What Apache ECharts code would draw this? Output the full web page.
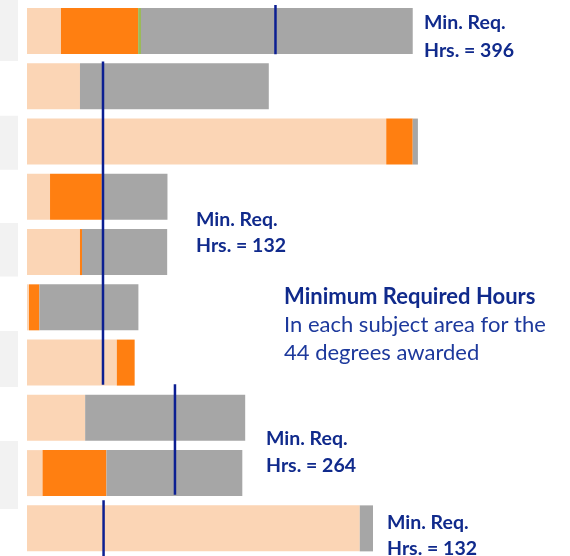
<!DOCTYPE html>
<html>
<head>
<meta charset="utf-8">
<script src="https://cdn.jsdelivr.net/npm/echarts@6/dist/echarts.min.js"></script>
<style>
  html, body { margin: 0; padding: 0; background: #fff; }
  #chart { width: 570px; height: 556px; }
</style>
</head>
<body>
<div id="chart"></div>
<script>
// subject areas (labels are cut off in the source picture)
const areas = ['Area 1', 'Area 2', 'Area 3', 'Area 4', 'Area 5', 'Area 6', 'Area 7', 'Area 8', 'Area 9', 'Area 10']

// hours per segment
const peachHrs  = [59, 92, 624, 40, 92, 3.5, 156, 101, 27, 578]
const orangeHrs = [134, 0, 46, 90, 3.5, 18, 31, 0, 111, 0]
const greenHrs  = [5, 0, 0, 0, 0, 0, 0, 0, 0, 0]
const grayHrs   = [472, 328, 9, 114, 148, 172, 0, 278, 236, 23]

// minimum required hours markers: [hours, row position] (row units, 0 = top)
const reqLine1 = [[431.6, 0.03], [431.6, 0.92]]
const reqLine2 = [[132, 1.05], [132, 6.9]]
const reqLine3 = [[257, 6.89], [257, 8.89]]
const reqLine4 = [[133, 8.99], [133, 10]]

const blue = '#102a8c'
const blueLight = '#1d399c'

const chart = echarts.init(document.getElementById('chart'))

function bar(name, data, color) {
  return {
    name: name,
    type: 'bar',
    stack: 'hrs',
    data: data,
    barWidth: 46,
    itemStyle: { color: color },
    silent: true
  }
}

function reqLine(data) {
  return {
    type: 'line',
    yAxisIndex: 1,
    data: data,
    symbol: 'none',
    lineStyle: { color: '#0c1f92', width: 2.5 },
    silent: true
  }
}

// text blocks on the right
function txt(x, y, s, bold, size) {
  return {
    type: 'text',
    x: x,
    y: y,
    style: {
      text: s,
      fill: bold ? blue : blueLight,
      font: (bold ? 'bold ' : '') + size + 'px Lato',
      verticalAlign: 'middle'
    }
  }
}

chart.setOption({
  animation: false,
  grid: { left: 27, right: 140, top: 3.4, height: 557.5 },
  xAxis: {
    type: 'value',
    min: 0,
    max: 700,
    show: false
  },
  yAxis: [
    {
      type: 'category',
      data: areas,
      inverse: true,
      show: false
    },
    {
      type: 'value',
      min: 0,
      max: 10,
      inverse: true,
      show: false
    }
  ],
  graphic: [
    // left side striping
    { type: 'rect', shape: { x: 0, y: 0, width: 18, height: 61 }, style: { fill: '#f2f2f2' }, z: -1 },
    { type: 'rect', shape: { x: 0, y: 115.7, width: 18, height: 54 }, style: { fill: '#f2f2f2' }, z: -1 },
    { type: 'rect', shape: { x: 0, y: 223, width: 18, height: 53.6 }, style: { fill: '#f2f2f2' }, z: -1 },
    { type: 'rect', shape: { x: 0, y: 331, width: 18, height: 56 }, style: { fill: '#f2f2f2' }, z: -1 },
    { type: 'rect', shape: { x: 0, y: 441, width: 18, height: 68 }, style: { fill: '#f2f2f2' }, z: -1 },

    txt(424, 23, 'Min. Req.', true, 19.5),
    txt(424, 50.5, 'Hrs. = 396', true, 19.5),
    txt(196, 220, 'Min. Req.', true, 19.5),
    txt(196, 245.6, 'Hrs. = 132', true, 19.5),
    txt(284, 297, 'Minimum Required Hours', true, 22),
    txt(284, 325, 'In each subject area for the', false, 22),
    txt(284, 353, '44 degrees awarded', false, 22),
    txt(266, 439, 'Min. Req.', true, 19.5),
    txt(266, 465.6, 'Hrs. = 264', true, 19.5),
    txt(387, 523, 'Min. Req.', true, 19.5),
    txt(387, 548.7, 'Hrs. = 132', true, 19.5)
  ],
  series: [
    bar('Peach', peachHrs, '#fbd5b5'),
    bar('Orange', orangeHrs, '#ff7f11'),
    bar('Green', greenHrs, '#9bbb59'),
    bar('Gray', grayHrs, '#a6a6a6'),
    reqLine(reqLine1),
    reqLine(reqLine2),
    reqLine(reqLine3),
    reqLine(reqLine4)
  ]
})
</script>
</body>
</html>
